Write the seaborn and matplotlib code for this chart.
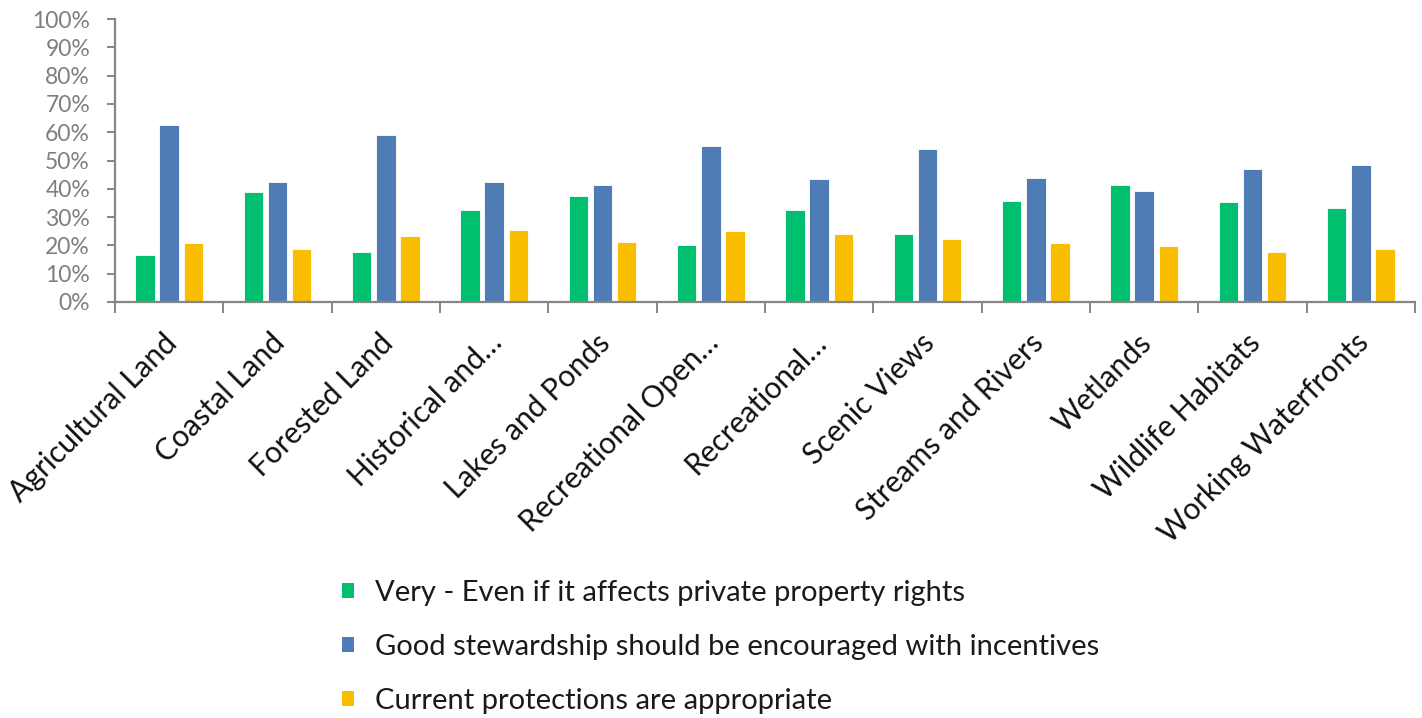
import matplotlib
matplotlib.use("Agg")
import matplotlib.pyplot as plt
import matplotlib.ticker as mticker
import matplotlib.transforms as mtransforms
from matplotlib.patches import Patch
import seaborn as sns
import pandas as pd

categories = ["Agricultural Land", "Coastal Land", "Forested Land", "Historical and\u2026",
              "Lakes and Ponds", "Recreational Open\u2026", "Recreational\u2026", "Scenic Views",
              "Streams and Rivers", "Wetlands", "Wildlife Habitats", "Working Waterfronts"]
series_names = ["Very - Even if it affects private property rights",
                "Good stewardship should be encouraged with incentives",
                "Current protections are appropriate"]
very = [16.5, 38.8, 17.6, 32.4, 37.6, 20.0, 32.6, 24.1, 35.7, 41.2, 35.4, 33.2]
good = [62.7, 42.5, 59.1, 42.3, 41.3, 55.0, 43.6, 53.9, 43.8, 39.2, 46.9, 48.4]
current = [20.8, 18.7, 23.3, 25.4, 21.3, 25.1, 24.0, 22.1, 20.7, 19.7, 17.8, 18.6]
yticks = [0, 10, 20, 30, 40, 50, 60, 70, 80, 90, 100]
colors = ["#00BF6F", "#4F7CB5", "#F9BE00"]

rows = []
for name, vals in zip(series_names, [very, good, current]):
    for c, v in zip(categories, vals):
        rows.append({"category": c, "series": name, "value": v})
df = pd.DataFrame(rows)

sns.set_theme(style="white")
plt.rcParams["font.family"] = ["Lato", "DejaVu Sans"]

fig = plt.figure(figsize=(14.22, 7.18), dpi=100)
ax = fig.add_axes([115 / 1422, 1 - 302 / 718, 1300 / 1422, 283 / 718])

sns.barplot(data=df, x="category", y="value", hue="series", order=categories,
            hue_order=series_names, palette=colors, width=0.67, gap=0.2,
            edgecolor="white", linewidth=0.6, saturation=1, ax=ax, legend=False)

gray = "#868686"
ax.set_xlim(-0.5, len(categories) - 0.5)
ax.set_ylim(0, 100)
ax.set_yticks(yticks)
ax.yaxis.set_major_formatter(mticker.FuncFormatter(lambda v, p: f"{v:.0f}%"))
ax.set_xlabel("")
ax.set_ylabel("")
for s in ["top", "right"]:
    ax.spines[s].set_visible(False)
for s in ["left", "bottom"]:
    ax.spines[s].set_color(gray)
    ax.spines[s].set_linewidth(1.6)

ax.tick_params(axis="y", which="major", length=6, width=1.4, color=gray, pad=12,
               labelsize=16.5, labelcolor="#7F7F7F", left=True)
ax.set_xticks(range(len(categories)))
ax.set_xticks([i - 0.5 for i in range(len(categories) + 1)], minor=True)
ax.tick_params(axis="x", which="major", length=0, pad=19, labelsize=21.5, labelcolor="#111111")
ax.tick_params(axis="x", which="minor", length=8, width=1.4, color=gray, bottom=True)
shift = mtransforms.ScaledTranslation(-7 / 100, 0, fig.dpi_scale_trans)
for lab in ax.get_xticklabels():
    lab.set_rotation(45)
    lab.set_ha("right")
    lab.set_va("top")
    lab.set_rotation_mode("anchor")
    lab.set_transform(lab.get_transform() + shift)

handles = [Patch(facecolor=c, edgecolor="none") for c in colors]
fig.legend(handles, series_names, loc="center left", bbox_to_anchor=(0.2405, 0.099),
           frameon=False, fontsize=21, handlelength=0.42, handleheight=0.42,
           handletextpad=0.7, labelspacing=0.97, borderpad=0, borderaxespad=0,
           labelcolor="#1A1A1A")

fig.savefig("out.png", dpi=100)
